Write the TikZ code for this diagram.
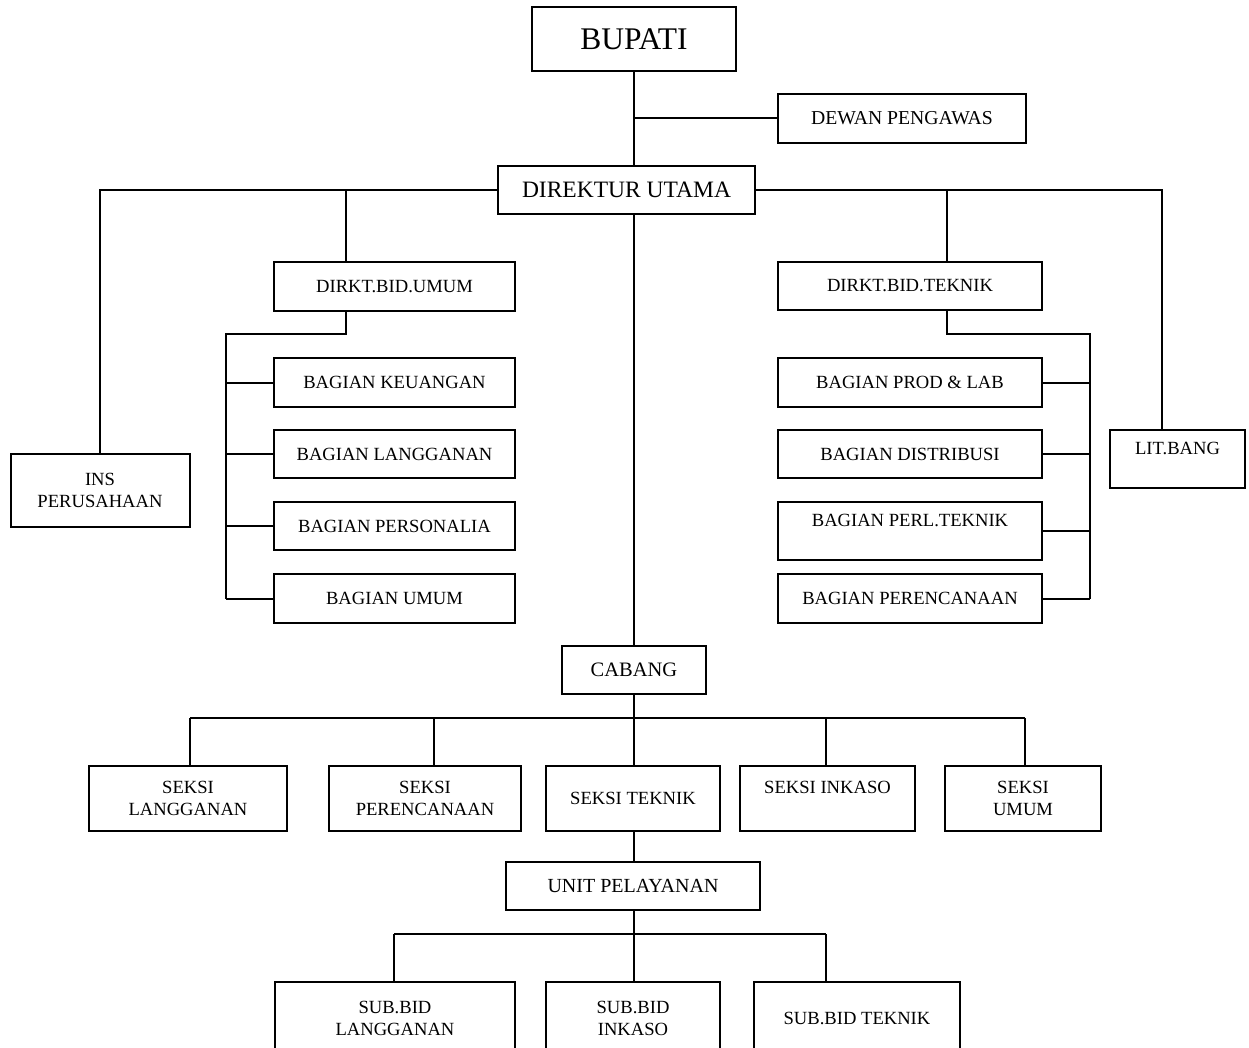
\documentclass[tikz,border=0pt]{standalone}
\usepackage{fontspec}
\setmainfont{Liberation Serif}
\begin{document}
\begin{tikzpicture}[x=1pt,y=-1pt,
  box/.style={draw,line width=2pt,inner sep=0pt,align=center,font=\fontsize{18.6}{21.5}\selectfont},
  conn/.style={line width=2pt}]
\useasboundingbox (0,0) rectangle (1249,1048);
\clip (0,0) rectangle (1249,1048);
% top
\node[box,minimum width=204,minimum height=64,font=\fontsize{31.5}{34}\selectfont] (bupati) at (634,39) {BUPATI};
\node[box,minimum width=248,minimum height=49,font=\fontsize{19.7}{22}\selectfont] (dewan) at (902,118.5) {DEWAN PENGAWAS};
\node[box,minimum width=257,minimum height=48,font=\fontsize{23.5}{26}\selectfont] (dir) at (626.5,190) {DIREKTUR UTAMA};
\node[box,minimum width=241,minimum height=49] (dbu) at (394.5,286.5) {DIRKT.BID.UMUM};
\node[box,minimum width=264,minimum height=48] (dbt) at (910,286) {DIRKT.BID.TEKNIK};
% left bagian
\node[box,minimum width=241,minimum height=49] (bk) at (394.5,382.5) {BAGIAN KEUANGAN};
\node[box,minimum width=241,minimum height=48] (bl) at (394.5,454) {BAGIAN LANGGANAN};
\node[box,minimum width=241,minimum height=48] (bp) at (394.5,526) {BAGIAN PERSONALIA};
\node[box,minimum width=241,minimum height=49] (bu) at (394.5,598.5) {BAGIAN UMUM};
% right bagian
\node[box,minimum width=264,minimum height=49] (rpl) at (910,382.5) {BAGIAN PROD \& LAB};
\node[box,minimum width=264,minimum height=48] (rd) at (910,454) {BAGIAN DISTRIBUSI};
\node[box,minimum width=264,minimum height=58] (rpt) at (910,531) {BAGIAN PERL.TEKNIK\\\mbox{}};
\node[box,minimum width=264,minimum height=49] (rpr) at (910,598.5) {BAGIAN PERENCANAAN};
% side
\node[box,minimum width=179,minimum height=73] (ins) at (100,490.5) {INS\\PERUSAHAAN};
\node[box,minimum width=135,minimum height=58] (lit) at (1177.5,459) {LIT.BANG\\\mbox{}};
% cabang
\node[box,minimum width=144,minimum height=48,font=\fontsize{20.5}{23}\selectfont] (cab) at (634,670) {CABANG};
\node[box,minimum width=198,minimum height=65] (sl) at (188,798.5) {SEKSI\\LANGGANAN};
\node[box,minimum width=192,minimum height=65] (sp) at (425,798.5) {SEKSI\\PERENCANAAN};
\node[box,minimum width=174,minimum height=65] (st) at (633,798.5) {SEKSI TEKNIK};
\node[box,minimum width=175,minimum height=65] (si) at (827.5,798.5) {SEKSI INKASO\\\mbox{}};
\node[box,minimum width=156,minimum height=65] (su) at (1023,798.5) {SEKSI\\UMUM};
\node[box,minimum width=254,minimum height=48,font=\fontsize{20}{23}\selectfont] (unit) at (633,886) {UNIT PELAYANAN};
\node[box,minimum width=240,minimum height=73] (sbl) at (395,1018.5) {SUB.BID\\LANGGANAN};
\node[box,minimum width=174,minimum height=73] (sbi) at (633,1018.5) {SUB.BID\\INKASO};
\node[box,minimum width=206,minimum height=73] (sbt) at (857,1018.5) {SUB.BID TEKNIK};
% coordinates
\coordinate (trunk) at (634,190);
\coordinate (jd) at (634,118.5);
\coordinate (ju) at (346,190);
\coordinate (jt) at (947,190);
\coordinate (jl) at (1162,190);
\coordinate (lu) at (226,334);
\coordinate (rt) at (1090,334);
\coordinate (cb) at (634,718);
\coordinate (h1) at (190,718);
\coordinate (h2) at (434,718);
\coordinate (h4) at (826,718);
\coordinate (h5) at (1025,718);
\coordinate (ub) at (634,934);
\coordinate (g1) at (394,934);
\coordinate (g3) at (826,934);
% connectors
\draw[conn] (bupati.south -| trunk) -- (dir.north -| trunk);
\draw[conn] (jd) -- (dewan.west);
\draw[conn] (dir.west) -- (ins.north |- dir.west) -- (ins.north);
\draw[conn] (dir.east) -- (jl) -- (jl |- lit.north);
\draw[conn] (ju) -- (ju |- dbu.north);
\draw[conn] (jt) -- (jt |- dbt.north);
\draw[conn] (ju |- dbu.south) |- (lu) -- (lu |- bu.west);
\foreach \b in {bk,bl,bp,bu} \draw[conn] (lu |- \b.west) -- (\b.west);
\draw[conn] (jt |- dbt.south) |- (rt) -- (rt |- rpr.east);
\foreach \b in {rpl,rd,rpt,rpr} \draw[conn] (\b.east) -- (rt |- \b.east);
\draw[conn] (dir.south -| trunk) -- (cab.north);
\draw[conn] (cab.south) -- (cb);
\draw[conn] (h1) -- (h5);
\draw[conn] (h1) -- (h1 |- sl.north);
\draw[conn] (h2) -- (h2 |- sp.north);
\draw[conn] (cb) -- (cb |- st.north);
\draw[conn] (h4) -- (h4 |- si.north);
\draw[conn] (h5) -- (h5 |- su.north);
\draw[conn] (st.south -| cb) -- (unit.north -| cb);
\draw[conn] (unit.south -| ub) -- (ub);
\draw[conn] (g1) -- (g3);
\draw[conn] (g1) -- (g1 |- sbl.north);
\draw[conn] (ub) -- (ub |- sbi.north);
\draw[conn] (g3) -- (g3 |- sbt.north);
\end{tikzpicture}
\end{document}
